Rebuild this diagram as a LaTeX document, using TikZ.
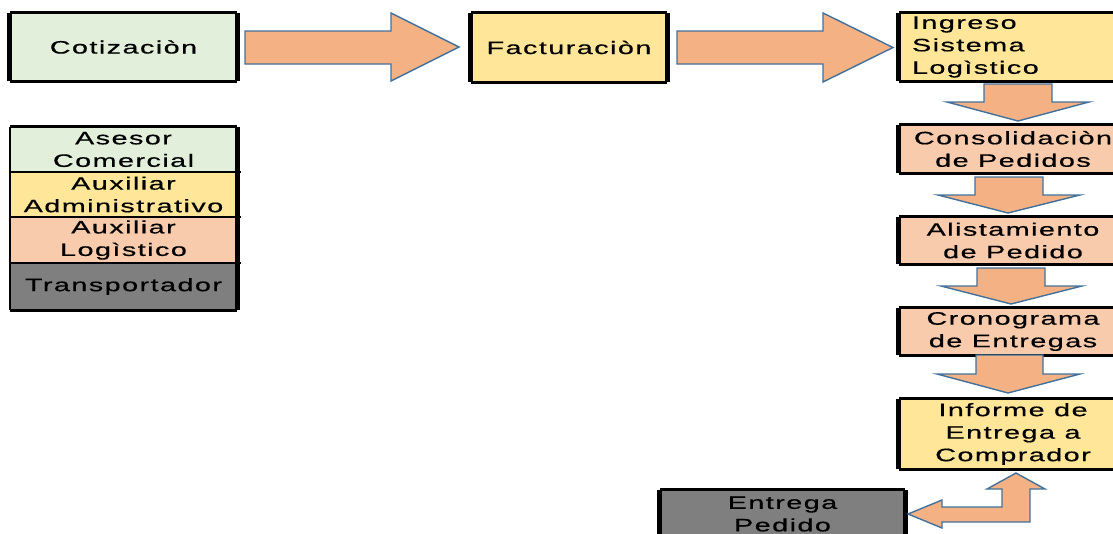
\documentclass[tikz,border=0pt]{standalone}
\usepackage{fontspec}
\setmainfont{Liberation Sans}[FakeStretch=1.6, LetterSpace=8, FakeBold=0.5]
\definecolor{cgreen}{HTML}{E2EFDA}
\definecolor{cyellow}{HTML}{FFE699}
\definecolor{cpeach}{HTML}{F8CBAD}
\definecolor{cgray}{HTML}{7F7F7F}
\definecolor{afill}{HTML}{F4B183}
\definecolor{aline}{HTML}{41719C}
\tikzset{
  stepbox/.style={inner sep=0pt, align=center, font=\fontsize{18}{22.5}\selectfont},
  hedge/.style={line width=3pt, line cap=square},
  vedge/.style={line width=5pt, line cap=square},
  rowsep/.style={line width=2pt},
  blockarrow/.style={fill=afill, draw=aline, line width=1.4pt, line join=miter},
}
% thick black frame round a box: thin top/bottom, heavier sides
\newcommand\stepframe[1]{%
  \draw[hedge] (#1.north west) -- (#1.north east) (#1.south west) -- (#1.south east);
  \draw[vedge] (#1.north west) -- (#1.south west) (#1.north east) -- (#1.south east);}
\begin{document}
\begin{tikzpicture}[x=1pt, y=-1pt]
\useasboundingbox (0,0) rectangle (1113,533);
\clip (0,0) rectangle (1113,533);

% top row
\node[stepbox, fill=cgreen, minimum width=227, minimum height=68] (cot) at (123.5,47) {Cotizaciòn};
\node[stepbox, fill=cyellow, minimum width=196, minimum height=69] (fac) at (569,47.5) {Facturaciòn};
\node[stepbox, fill=cyellow, minimum width=228, minimum height=68, align=left,
      text width=202, inner xsep=13pt] (ing) at (1013,47) {Ingreso\\Sistema\\Logìstico};

% right column
\node[stepbox, fill=cpeach, minimum width=228, minimum height=48] (con) at (1013,149) {Consolidaciòn\\de Pedidos};
\node[stepbox, fill=cpeach, minimum width=228, minimum height=47] (ali) at (1013,240.5) {Alistamiento\\de Pedido};
\node[stepbox, fill=cpeach, minimum width=228, minimum height=47] (cro) at (1013,331.5) {Cronograma\\de Entregas};
\node[stepbox, fill=cyellow, minimum width=228, minimum height=70] (inf) at (1013,434) {Informe de\\Entrega a\\Comprador};
\node[stepbox, fill=cgray, minimum width=245, minimum height=48] (ent) at (782.5,514) {Entrega\\Pedido};

\foreach \n in {cot,fac,ing,con,ali,cro,inf,ent} {\stepframe{\n}}

% legend of roles
\node[stepbox, fill=cgreen, minimum width=227, minimum height=45] (ase) at (123.5,149.5) {Asesor\\Comercial};
\node[stepbox, fill=cyellow, minimum width=227, minimum height=45] (adm) at (123.5,194.5) {Auxiliar\\Administrativo};
\node[stepbox, fill=cpeach, minimum width=227, minimum height=46] (log) at (123.5,240) {Auxiliar\\Logìstico};
\node[stepbox, fill=cgray, minimum width=227, minimum height=47] (tra) at (123.5,286.5) {Transportador};
\draw[rowsep] (ase.south west) -- ([xshift=4pt]ase.south east)
              (adm.south west) -- ([xshift=4pt]adm.south east)
              (log.south west) -- ([xshift=4pt]log.south east);
\draw[hedge] (ase.north west) -- (ase.north east) (tra.south west) -- (tra.south east);
\draw[line width=2.5pt] (ase.north west) -- (tra.south west);
\draw[vedge] (ase.north east) -- (tra.south east);

% block arrows between the steps
\draw[blockarrow] (245,31) -- (391,31) -- (391,13) -- (459,47) -- (391,81) -- (391,64) -- (245,64) -- cycle;
\draw[blockarrow] (677,31) -- (823,31) -- (823,13) -- (893,47.5) -- (823,82) -- (823,64) -- (677,64) -- cycle;

\draw[blockarrow] (984,84) -- (1052,84) -- (1052,102) -- (1089,102) -- (1018,121) -- (947,102) -- (984,102) -- cycle;
\draw[blockarrow] (975,177) -- (1043,177) -- (1043,195) -- (1080,195) -- (1008,213) -- (938,195) -- (975,195) -- cycle;
\draw[blockarrow] (977,268) -- (1045,268) -- (1045,286) -- (1082,286) -- (1011,304) -- (941,286) -- (977,286) -- cycle;
\draw[blockarrow] (976,355) -- (1043,355) -- (1043,374) -- (1080,374) -- (1008,393) -- (937,374) -- (976,374) -- cycle;

% bent two-headed arrow from the report to the delivery
\draw[blockarrow] (1016,473) -- (1045,489) -- (1030,489) -- (1030,522) -- (942,522) -- (942,528)
  -- (908,514) -- (942,500) -- (942,507) -- (1002,507) -- (1002,489) -- (987,489) -- cycle;
\end{tikzpicture}
\end{document}
